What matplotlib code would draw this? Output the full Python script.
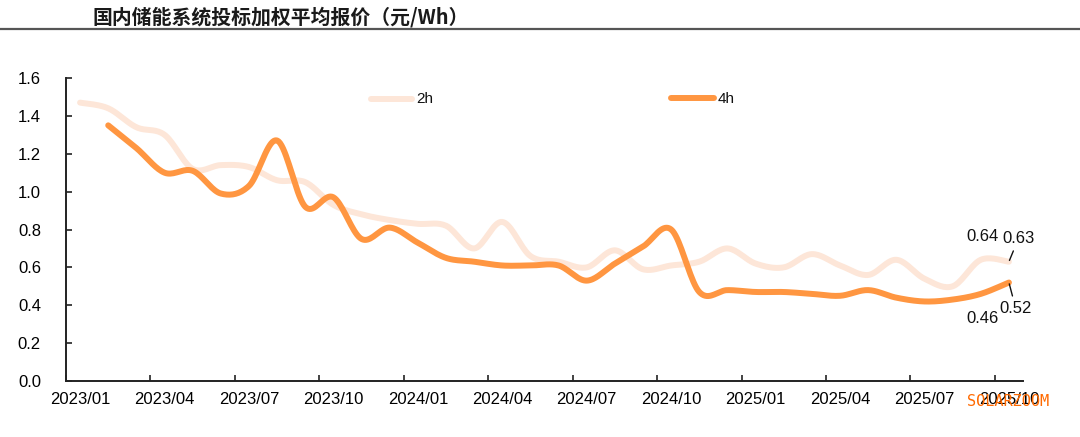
import numpy as np
import matplotlib
matplotlib.use("Agg")
import matplotlib.pyplot as plt

plt.rcParams['font.family'] = ['Liberation Sans', 'Noto Sans CJK SC', 'DejaVu Sans']

# ---- data ----
tick_labels = ["2023/01", "2023/04", "2023/07", "2023/10", "2024/01", "2024/04",
               "2024/07", "2024/10", "2025/01", "2025/04", "2025/07", "2025/10"]
# monthly values, 2023/01 .. 2025/10
h2 = [1.47, 1.44, 1.34, 1.30, 1.12, 1.14, 1.13, 1.06, 1.05, 0.93, 0.88, 0.85,
      0.83, 0.82, 0.70, 0.84, 0.66, 0.63, 0.60, 0.69, 0.59, 0.61, 0.63, 0.70,
      0.62, 0.60, 0.67, 0.61, 0.56, 0.64, 0.54, 0.50, 0.64, 0.63]
# 2023/02 .. 2025/10
h4 = [1.35, 1.23, 1.10, 1.11, 0.99, 1.03, 1.27, 0.92, 0.97, 0.75, 0.81, 0.73,
      0.65, 0.63, 0.61, 0.61, 0.61, 0.53, 0.62, 0.71, 0.80, 0.47, 0.48, 0.47,
      0.47, 0.46, 0.45, 0.48, 0.44, 0.42, 0.43, 0.46, 0.52]

x2 = np.arange(len(h2)) + 0.5
x4 = np.arange(len(h4)) + 1.5


def smooth(x, y, n=20):
    """Excel-style smoothed line (Bezier through points)."""
    x = np.asarray(x, float)
    y = np.asarray(y, float)
    P = np.column_stack([x, y])
    out = [P[0]]
    for i in range(len(P) - 1):
        p0 = P[i - 1] if i > 0 else P[i]
        p1 = P[i]
        p2 = P[i + 1]
        p3 = P[i + 2] if i + 2 < len(P) else P[i + 1]
        c1 = p1 + (p2 - p0) / 6.0
        c2 = p2 - (p3 - p1) / 6.0
        t = np.linspace(0, 1, n)[1:, None]
        b = ((1 - t) ** 3) * p1 + 3 * ((1 - t) ** 2) * t * c1 + 3 * (1 - t) * t ** 2 * c2 + t ** 3 * p2
        out.extend(b)
    out = np.array(out)
    return out[:, 0], out[:, 1]


fig = plt.figure(figsize=(10.8, 4.37), dpi=100)
ax = fig.add_axes([66 / 1080, 1 - 381 / 437, (1023 - 66) / 1080, (381 - 78) / 437])

c2 = '#FDE6D8'
c4 = '#FF9641'
sx, sy = smooth(x2, h2)
ax.plot(sx, sy, color=c2, lw=4.3, solid_capstyle='round', label='2h')
sx, sy = smooth(x4, h4)
ax.plot(sx, sy, color=c4, lw=4.3, solid_capstyle='round', label='4h')

ax.set_xlim(0, 34)
ax.set_ylim(0, 1.6)
ax.set_yticks(np.arange(0, 1.61, 0.2))
ax.set_yticklabels([f"{v:.1f}" for v in np.arange(0, 1.61, 0.2)], fontsize=12)
ax.set_xticks(np.arange(0, 34, 3))
ax.set_xticklabels([])
ax.set_xticks(np.arange(0, 34, 3) + 0.5, minor=True)
ax.set_xticklabels(tick_labels, minor=True, fontsize=12)
ax.tick_params(axis='x', which='major', direction='in', length=4, width=1.2, color='#222222')
ax.tick_params(axis='x', which='minor', length=0, pad=8)
ax.tick_params(axis='y', direction='in', length=4, width=1.2, color='#222222', pad=18)
for s in ['top', 'right']:
    ax.spines[s].set_visible(False)
for s in ['left', 'bottom']:
    ax.spines[s].set_linewidth(1.4)
    ax.spines[s].set_color('#222222')

# legend (manual placement in figure pixels)
def fx(px):
    return px / 1080
def fy(py):
    return 1 - py / 437

fig.lines.append(plt.Line2D([fx(371), fx(412)], [fy(99), fy(99)], color=c2, lw=4.3,
                            solid_capstyle='round', transform=fig.transFigure))
fig.text(fx(416), fy(99), '2h', fontsize=11, va='center', ha='left', color='#111111')
fig.lines.append(plt.Line2D([fx(671), fx(714)], [fy(98), fy(98)], color=c4, lw=4.3,
                            solid_capstyle='round', transform=fig.transFigure))
fig.text(fx(718), fy(99), '4h', fontsize=11, va='center', ha='left', color='#111111')

# annotations
ax.annotate(f"{h2[-2]:.2f}", (x2[-2], h2[-2]), xytext=(1, 17), textcoords='offset points',
            ha='center', va='center', fontsize=12, color='#111111')
ax.annotate(f"{h2[-1]:.2f}", (x2[-1], h2[-1]), xytext=(7, 17), textcoords='offset points',
            ha='center', va='center', fontsize=12, color='#111111',
            arrowprops=dict(arrowstyle='-', color='#111111', lw=1.0, shrinkA=2, shrinkB=1))
ax.annotate(f"{h4[-2]:.2f}", (x4[-2], h4[-2]), xytext=(1, -17.5), textcoords='offset points',
            ha='center', va='center', fontsize=12, color='#111111')
ax.annotate(f"{h4[-1]:.2f}", (x4[-1], h4[-1]), xytext=(5, -19), textcoords='offset points',
            ha='center', va='center', fontsize=12, color='#111111',
            arrowprops=dict(arrowstyle='-', color='#111111', lw=1.0, shrinkA=2, shrinkB=1))

# title and rule
fig.text(fx(93), fy(17), '国内储能系统投标加权平均报价（元/Wh）', fontsize=14.3,
         family=['Noto Sans CJK SC', 'DejaVu Sans'], fontweight='bold',
         va='center', ha='left', color='#1a1a1a')
fig.lines.append(plt.Line2D([0, 1], [fy(29), fy(29)], color='#555555', lw=1.6,
                            transform=fig.transFigure))

# watermark
fig.text(fx(1008), fy(402), 'SOLARZOOM', fontsize=11, family='DejaVu Sans Mono',
         color='#FF6A00', ha='center', va='center')

fig.savefig('out.png', dpi=100)
